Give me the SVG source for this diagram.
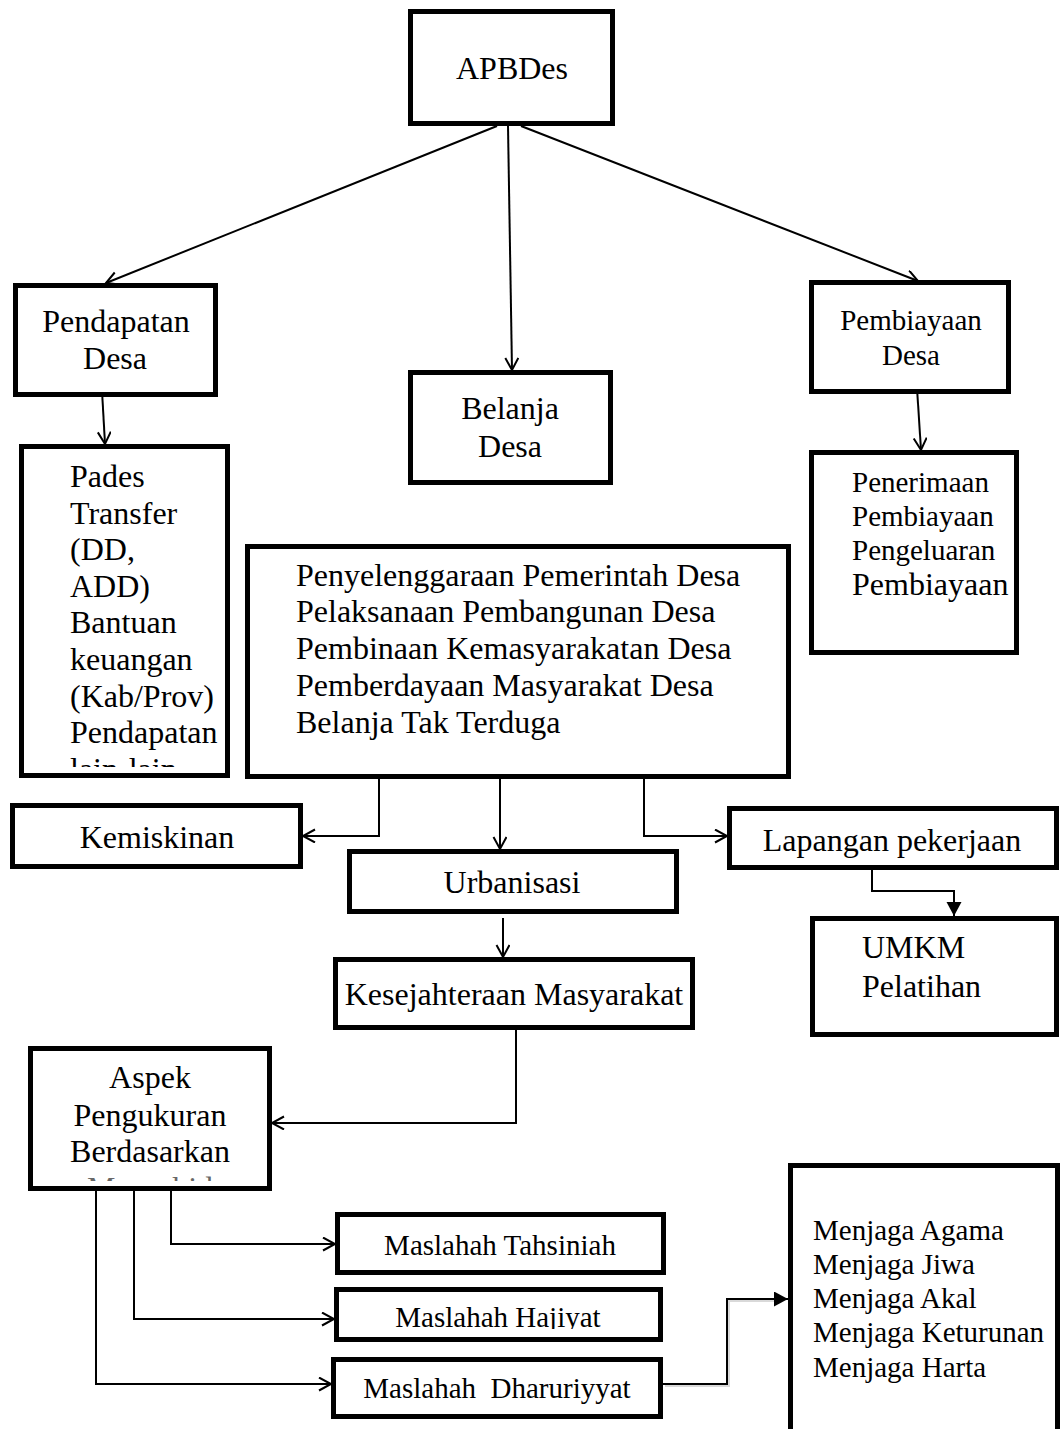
<svg xmlns="http://www.w3.org/2000/svg" width="1062" height="1429" viewBox="0 0 1062 1429">
<style>
.box{fill:#fff;stroke:#000;stroke-width:5;stroke-linejoin:miter}
.t{font-family:"Liberation Serif","Times New Roman",serif;font-size:32px;fill:#000}
.s{font-size:29px}
.c{text-anchor:middle}
.ln{fill:none;stroke:#000;stroke-width:2}
</style>
<defs>
<marker id="open" markerUnits="userSpaceOnUse" markerWidth="16" markerHeight="16" refX="13" refY="7" orient="auto">
<path d="M1,0.5 L13,7 L1,13.5" fill="none" stroke="#000" stroke-width="2"/>
</marker>
<marker id="fill" markerUnits="userSpaceOnUse" markerWidth="16" markerHeight="16" refX="14" refY="7.5" orient="auto">
<path d="M0,0 L14,7.5 L0,15 Z" fill="#000"/>
</marker>
<clipPath id="cPades"><rect x="0" y="0" width="300" height="767"/></clipPath>
<clipPath id="cAspek"><rect x="0" y="1000" width="300" height="181"/></clipPath>
<clipPath id="cHaj"><rect x="300" y="1280" width="400" height="49"/></clipPath>
</defs>

<g id="connectors">
<line class="ln" x1="497" y1="126" x2="106" y2="283" marker-end="url(#open)"/>
<line class="ln" x1="508" y1="126" x2="512" y2="370" marker-end="url(#open)"/>
<line class="ln" x1="521" y1="126" x2="918" y2="281" marker-end="url(#open)"/>
<line class="ln" x1="101" y1="373" x2="105" y2="444" marker-end="url(#open)"/>
<line class="ln" x1="917" y1="388" x2="921" y2="450" marker-end="url(#open)"/>
<polyline class="ln" points="379,779 379,836 303,836" marker-end="url(#open)"/>
<line class="ln" x1="500" y1="774" x2="500" y2="849" marker-end="url(#open)"/>
<polyline class="ln" points="644,773 644,836 727,836" marker-end="url(#open)"/>
<line class="ln" x1="503" y1="918" x2="503" y2="957" marker-end="url(#open)"/>
<polyline class="ln" points="872,867 872,891 954,891 954,916" marker-end="url(#fill)"/>
<polyline class="ln" points="516,1030 516,1123 272,1123" marker-end="url(#open)"/>
<polyline class="ln" points="171,1191 171,1244 335,1244" marker-end="url(#open)"/>
<polyline class="ln" points="134,1191 134,1319 334,1319" marker-end="url(#open)"/>
<polyline class="ln" points="96,1191 96,1384 331,1384" marker-end="url(#open)"/>
<polyline points="665,1386 729,1386 729,1301 776,1301" fill="none" stroke="#000" stroke-opacity="0.15" stroke-width="2"/>
<polyline class="ln" points="663,1384 727,1384 727,1299 788,1299" marker-end="url(#fill)"/>
</g>

<g id="apbdes">
<rect class="box" x="410.5" y="11.5" width="202" height="112"/>
<text class="t c" x="512" y="79">APBDes</text>
</g>

<g id="pendapatan">
<rect class="box" x="15.5" y="285.5" width="200" height="109"/>
<text class="t c" x="116" y="332">Pendapatan</text>
<text class="t c" x="115" y="369">Desa</text>
</g>

<g id="pades">
<rect class="box" x="21.5" y="446.5" width="206" height="329"/>
<text class="t" x="70" y="487">Pades</text>
<text class="t" x="70" y="524">Transfer</text>
<text class="t" x="70" y="560">(DD,</text>
<text class="t" x="70" y="597">ADD)</text>
<text class="t" x="70" y="633">Bantuan</text>
<text class="t" x="70" y="670">keuangan</text>
<text class="t" x="70" y="707">(Kab/Prov)</text>
<text class="t" x="70" y="743">Pendapatan</text>
<text class="t" x="70" y="780" clip-path="url(#cPades)">lain-lain</text>
</g>

<g id="belanja">
<rect class="box" x="410.5" y="372.5" width="200" height="110"/>
<text class="t c" x="510" y="419">Belanja</text>
<text class="t c" x="510" y="457">Desa</text>
</g>

<g id="pembiayaan">
<rect class="box" x="811.5" y="282.5" width="197" height="109"/>
<text class="t s c" x="911" y="330">Pembiayaan</text>
<text class="t s c" x="911" y="365">Desa</text>
</g>

<g id="penerimaan">
<rect class="box" x="811.5" y="452.5" width="205" height="200"/>
<text class="t s" x="852" y="492">Penerimaan</text>
<text class="t s" x="852" y="526">Pembiayaan</text>
<text class="t s" x="852" y="560">Pengeluaran</text>
<text class="t" x="852" y="595">Pembiayaan</text>
</g>

<g id="belanja-detail">
<rect class="box" x="247.5" y="546.5" width="541" height="230"/>
<text class="t" x="296" y="586">Penyelenggaraan Pemerintah Desa</text>
<text class="t" x="296" y="622">Pelaksanaan Pembangunan Desa</text>
<text class="t" x="296" y="659">Pembinaan Kemasyarakatan Desa</text>
<text class="t" x="296" y="696">Pemberdayaan Masyarakat Desa</text>
<text class="t" x="296" y="733">Belanja Tak Terduga</text>
</g>

<g id="kemiskinan">
<rect class="box" x="12.5" y="805.5" width="288" height="61"/>
<text class="t c" x="157" y="848">Kemiskinan</text>
</g>

<g id="urbanisasi">
<rect class="box" x="349.5" y="851.5" width="327" height="60"/>
<text class="t c" x="512" y="893">Urbanisasi</text>
</g>

<g id="lapangan">
<rect class="box" x="729.5" y="808.5" width="327" height="59"/>
<text class="t c" x="892" y="851">Lapangan pekerjaan</text>
</g>

<g id="umkm">
<rect class="box" x="812.5" y="918.5" width="244" height="116"/>
<text class="t" x="862" y="958">UMKM</text>
<text class="t" x="862" y="997">Pelatihan</text>
</g>

<g id="kesejahteraan">
<rect class="box" x="335.5" y="959.5" width="357" height="68"/>
<text class="t c" x="514" y="1005">Kesejahteraan Masyarakat</text>
</g>

<g id="aspek">
<rect class="box" x="30.5" y="1048.5" width="239" height="140"/>
<text class="t c" x="150" y="1088">Aspek</text>
<text class="t c" x="150" y="1126">Pengukuran</text>
<text class="t c" x="150" y="1162">Berdasarkan</text>
<text class="t c" x="150" y="1199" clip-path="url(#cAspek)" fill-opacity="0.6">Maqashid</text>
</g>

<g id="tahsiniah">
<rect class="box" x="337.5" y="1214.5" width="326" height="58"/>
<text class="t s c" x="500" y="1255">Maslahah Tahsiniah</text>
</g>

<g id="hajiyat">
<rect class="box" x="336.5" y="1289.5" width="324" height="50"/>
<text class="t s c" x="498" y="1327" clip-path="url(#cHaj)">Maslahah Hajiyat</text>
</g>

<g id="dharuriyyat">
<rect class="box" x="333.5" y="1359.5" width="327" height="57"/>
<text class="t s c" x="497" y="1398" xml:space="preserve">Maslahah  Dharuriyyat</text>
</g>

<g id="menjaga">
<rect class="box" x="790.5" y="1165.5" width="267" height="300"/>
<text class="t s" x="813" y="1240">Menjaga Agama</text>
<text class="t s" x="813" y="1274">Menjaga Jiwa</text>
<text class="t s" x="813" y="1308">Menjaga Akal</text>
<text class="t s" x="813" y="1342">Menjaga Keturunan</text>
<text class="t s" x="813" y="1377">Menjaga Harta</text>
</g>
</svg>
